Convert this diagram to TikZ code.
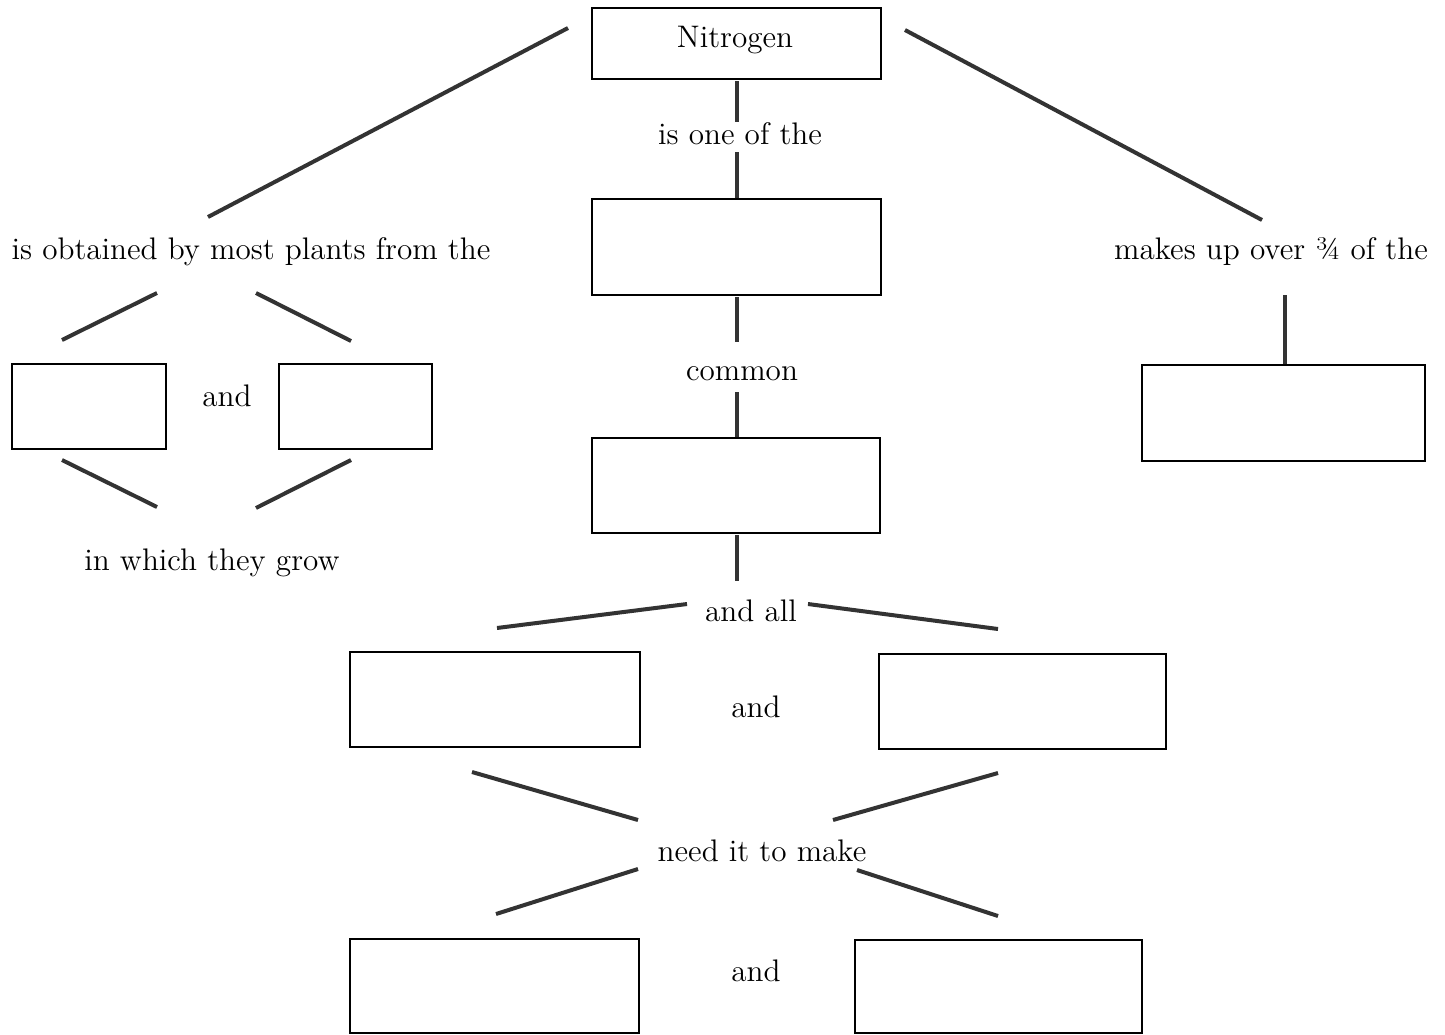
\documentclass[tikz,border=0pt]{standalone}
\usepackage{fontspec}
\begin{document}
\begin{tikzpicture}[x=0.5pt,y=-0.5pt,
  box/.style={draw=black,line width=0.8pt,inner sep=0pt,fill=white},
  lbl/.style={inner sep=0pt,font=\fontsize{14.3}{17}\selectfont,scale=1.09,transform shape},
  conn/.style={line width=2pt,draw=black!80}]
\useasboundingbox[fill=white] (0,0) rectangle (1445,1034);
% boxes
\node[box,minimum width=144.5pt,minimum height=35.5pt] (nit) at (736.5,43.5) {};
\node[lbl] (nitt) at (735,40) {Nitrogen};
\node[box,minimum width=144.5pt,minimum height=48pt] (b2) at (736.5,247) {};
\node[box,minimum width=144pt,minimum height=47.5pt] (b3) at (736,485.5) {};
\node[box,minimum width=145pt,minimum height=47.5pt] (b4) at (495,699.5) {};
\node[box,minimum width=143.5pt,minimum height=47.5pt] (b5) at (1022.5,701.5) {};
\node[box,minimum width=144.5pt,minimum height=47pt] (b6) at (494.5,986) {};
\node[box,minimum width=143.5pt,minimum height=46.5pt] (b7) at (998.5,986.5) {};
\node[box,minimum width=77pt,minimum height=42.5pt] (b8) at (89,406.5) {};
\node[box,minimum width=76.5pt,minimum height=42.5pt] (b9) at (355.5,406.5) {};
\node[box,minimum width=141.5pt,minimum height=48pt] (b10) at (1283.5,413) {};
% labels
\node[lbl] (t1) at (740,134) {is one of the};
\node[lbl] (t2) at (742,374) {common};
\node[lbl] (t3) at (751,611) {and all};
\node[lbl] (t4) at (756,707) {and};
\node[lbl] (t5) at (762,851) {need it to make};
\node[lbl] (t6) at (756,971) {and};
\node[lbl] (t7) at (251,252) {is obtained by most plants from the};
\node[lbl] (t8) at (227,396) {and};
\node[lbl] (t9) at (212,563) {in which they grow};
\node[lbl] (t10) at (1271,252) {makes up over ¾ of the};
% connectors
\draw[conn] (737,81) -- (737,122);
\draw[conn] (737,152) -- (737,198);
\draw[conn] (737,297) -- (737,342);
\draw[conn] (737,392) -- (737,437);
\draw[conn] (737,535) -- (737,581);
\draw[conn] (497,628) -- (687,604);
\draw[conn] (808,604) -- (998,629);
\draw[conn] (472,772) -- (638,820);
\draw[conn] (998,773) -- (833,820);
\draw[conn] (638,869) -- (496,914);
\draw[conn] (857,870) -- (998,916);
\draw[conn] (568,28) -- (208,217);
\draw[conn] (157,293) -- (62,340);
\draw[conn] (256,293) -- (351,341);
\draw[conn] (62,460) -- (157,507);
\draw[conn] (351,460) -- (256,508);
\draw[conn] (905,30) -- (1262,220);
\draw[conn] (1285,295) -- (1285,364);
\end{tikzpicture}
\end{document}
